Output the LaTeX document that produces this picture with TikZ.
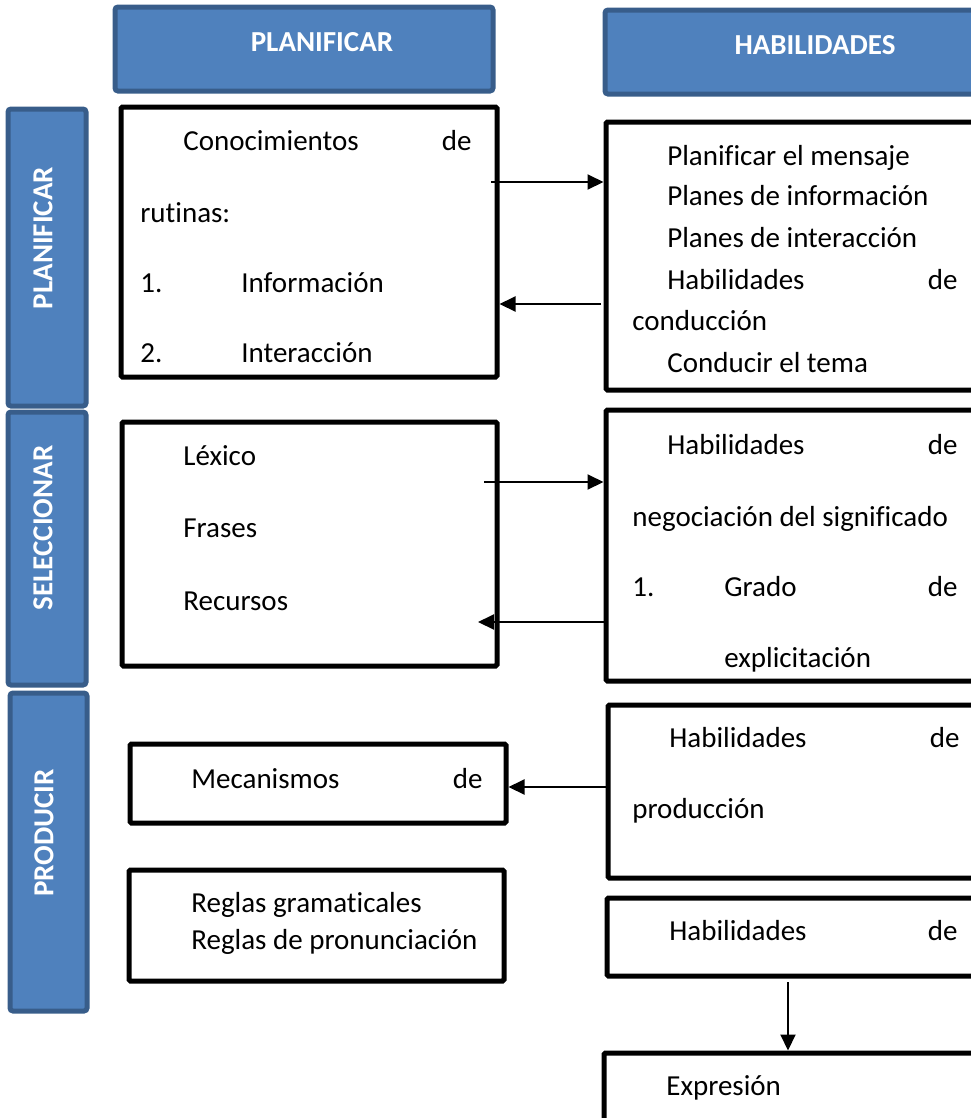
\documentclass[tikz,border=0pt]{standalone}
\usepackage{fontspec}
\setmainfont{Carlito}[Ligatures=NoCommon]
\usetikzlibrary{arrows.meta,fit}
\definecolor{barfill}{HTML}{4F81BD}
\definecolor{barline}{HTML}{385D8A}
\tikzset{
  bar/.style={draw=barline, fill=barfill, line width=1mm, rounded corners=0.6mm, inner sep=0pt},
  bartxt/.style={text=white, font=\fontsize{16.5}{20}\selectfont\bfseries, inner sep=0pt},
  box/.style={draw, line width=1mm, rounded corners=0.3mm, inner sep=0pt},
  txt/.style={font=\fontsize{16.5}{20}\selectfont, anchor=base west, inner sep=0pt},
  txtr/.style={txt, anchor=base east},
  arr/.style={line width=0.4mm, -{Triangle[length=3.2mm,width=3mm]}}
}
\begin{document}
\begin{tikzpicture}[x=0.2mm, y=-0.2mm]
\useasboundingbox (0,0) rectangle (971,1118);
\clip (0,0) rectangle (971,1118);

\node (hdrplan) [bar, fit={(115,7) (493,91)}] {};
\node (hdrhab) [bar, fit={(605,10) (1000,94)}] {};
\node (tplan) [bartxt, anchor=base] at (322,51) {PLANIFICAR};
\node (thab) [bartxt, anchor=base] at (815,54) {HABILIDADES};

\node (sideplan) [bar, fit={(8,109) (86,406)}] {};
\node (sidesel) [bar, fit={(8,412) (86,685)}] {};
\node (sideprod) [bar, fit={(10,693) (87,1011)}] {};
\node (tsplan) [bartxt, rotate=90] at (43,238) {PLANIFICAR};
\node (tssel) [bartxt, rotate=90] at (43,528) {SELECCIONAR};
\node (tsprod) [bartxt, rotate=90] at (44,833) {PRODUCIR};

\node (boxA) [box, fit={(121,107) (497,377)}] {};
\node (boxB) [box, fit={(122,422) (497,666)}] {};
\node (boxC) [box, fit={(130,744) (506,823)}] {};
\node (boxD) [box, fit={(129,870) (504,981)}] {};
\node (boxE) [box, fit={(606,122) (1000,390)}] {};
\node (boxF) [box, fit={(606,410) (1000,681)}] {};
\node (boxG) [box, fit={(608,705) (1000,878)}] {};
\node (boxH) [box, fit={(607,898) (1000,976)}] {};
\node (boxI) [box, fit={(604,1053) (1000,1140)}] {};

\node (a1) [txt] at (183,150) {Conocimientos};
\node (a2) [txtr] at (472,150) {de};
\node (a3) [txt] at (140,222) {rutinas:};
\node (a4) [txt] at (140,292) {1.};
\node (a5) [txt] at (241,292) {Información};
\node (a6) [txt] at (140,362) {2.};
\node (a7) [txt] at (241,362) {Interacción};

\node (e1) [txt] at (667,165) {Planificar el mensaje};
\node (e2) [txt] at (667,205) {Planes de información};
\node (e3) [txt] at (667,247) {Planes de interacción};
\node (e4) [txt] at (667,289) {Habilidades};
\node (e5) [txtr] at (958,289) {de};
\node (e6) [txt] at (632,330) {conducción};
\node (e7) [txt] at (667,372) {Conducir el tema};

\node (b1) [txt] at (183,465) {Léxico};
\node (b2) [txt] at (183,537) {Frases};
\node (b3) [txt] at (183,610) {Recursos};

\node (f1) [txt] at (667,454) {Habilidades};
\node (f2) [txtr] at (958,454) {de};
\node (f3) [txt] at (632,526) {negociación del significado};
\node (f4) [txt] at (632,596) {1.};
\node (f5) [txt] at (724,596) {Grado};
\node (f6) [txtr] at (958,596) {de};
\node (f7) [txt] at (724,667) {explicitación};

\node (c1) [txt] at (191,788) {Mecanismos};
\node (c2) [txtr] at (483,788) {de};

\node (g1) [txt] at (669,747) {Habilidades};
\node (g2) [txtr] at (960,747) {de};
\node (g3) [txt] at (632,818) {producción};

\node (d1) [txt] at (191,912) {Reglas gramaticales};
\node (d2) [txt] at (191,949) {Reglas de pronunciación};

\node (h1) [txt] at (669,940) {Habilidades};
\node (h2) [txtr] at (958,940) {de};

\node (i1) [txt] at (666,1095) {Expresión};

\coordinate (ae) at (491,182);
\coordinate (ea) at (601,304);
\coordinate (bf) at (484,482);
\coordinate (fb) at (478,622);
\coordinate (gc) at (608,787);
\coordinate (hi) at (788,982);
\draw[arr] (ae) -- (ae -| boxE.west);
\draw[arr] (ea) -- (ea -| boxA.east);
\draw[arr] (bf) -- (bf -| boxF.west);
\draw[arr] (fb -| boxF.west) -- (fb);
\draw[arr] (gc) -- (gc -| boxC.east);
\draw[arr] (hi) -- (hi |- boxI.north);
\end{tikzpicture}
\end{document}
